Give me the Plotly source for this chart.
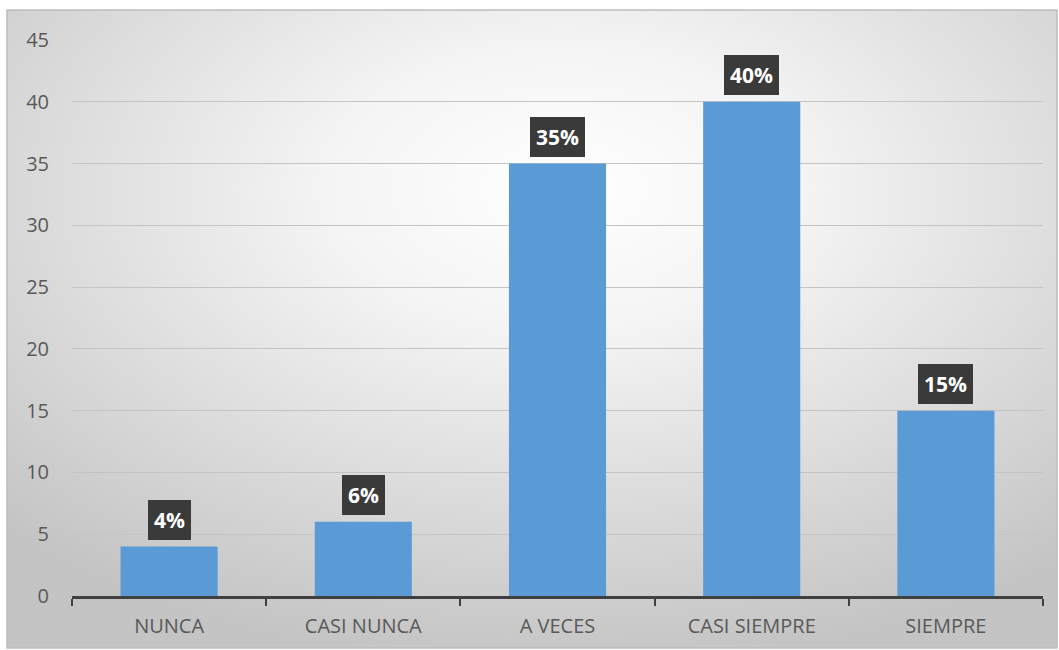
import base64
import plotly.graph_objects as go

# Survey response frequencies
categories = ["NUNCA", "CASI NUNCA", "A VECES", "CASI SIEMPRE", "SIEMPRE"]
values = [4, 6, 35, 40, 15]
value_labels = ["4%", "6%", "35%", "40%", "15%"]
y_ticks = [0, 5, 10, 15, 20, 25, 30, 35, 40, 45]

W, H = 1059, 650
L, R, T, B = 72, 16, 40, 54
plot_w = W - L - R
plot_h = H - T - B

def px_to_paper_x(px):
    return (px - L) / plot_w

def px_to_paper_y(py):
    return (H - B - py) / plot_h

# Radial gradient background for the chart area
svg = """<svg xmlns='http://www.w3.org/2000/svg' width='1050' height='638' viewBox='0 0 1050 638' preserveAspectRatio='none'>
<defs><radialGradient id='g' cx='0.53' cy='0.28' r='0.75' fx='0.53' fy='0.28'>
<stop offset='0' stop-color='#ffffff'/>
<stop offset='0.3' stop-color='#f4f4f4'/>
<stop offset='1' stop-color='#c4c4c4'/>
</radialGradient></defs>
<rect x='0' y='0' width='1050' height='638' fill='url(#g)'/>
</svg>"""
bg_src = "data:image/svg+xml;base64," + base64.b64encode(svg.encode()).decode()

x0, x1 = px_to_paper_x(7), px_to_paper_x(1057)
y_top, y_bot = px_to_paper_y(10), px_to_paper_y(648)

FONT = "Open Sans, Liberation Sans, sans-serif"

fig = go.Figure(
    go.Bar(
        x=categories,
        y=values,
        marker=dict(color="#5b9bd5", line=dict(width=0)),
        width=0.5,
        hoverinfo="x+y",
    )
)

for cat, val, lab in zip(categories, values, value_labels):
    fig.add_annotation(
        x=cat, y=val, text=f"<b>{lab}</b>",
        showarrow=False, yanchor="bottom", yshift=7,
        font=dict(family=FONT, size=21, color="white"),
        bgcolor="#3a3a3a", borderpad=6, borderwidth=0,
    )

fig.add_layout_image(
    source=bg_src, xref="paper", yref="paper",
    x=x0, y=y_top, sizex=x1 - x0, sizey=y_top - y_bot,
    xanchor="left", yanchor="top", sizing="stretch", layer="below",
)

fig.add_shape(
    type="rect", xref="paper", yref="paper",
    x0=x0, x1=x1, y0=y_bot, y1=y_top,
    line=dict(color="#bdbdbd", width=1.5), layer="below",
)

fig.update_layout(
    width=W, height=H,
    margin=dict(l=L, r=R, t=T, b=B),
    paper_bgcolor="white",
    plot_bgcolor="rgba(0,0,0,0)",
    showlegend=False,
    font=dict(family=FONT, size=20, color="#595959"),
    bargap=0.5,
)

fig.update_xaxes(
    showline=True, linecolor="#404040", linewidth=2.5,
    ticks="outside", ticklen=7, tickwidth=2, tickcolor="#404040",
    tickson="boundaries", ticklabelstandoff=10,
    showgrid=False, tickfont=dict(family=FONT, size=20, color="#595959"),
)

fig.update_yaxes(
    range=[0, 45], tickvals=y_ticks,
    showgrid=True, gridcolor="#c4c4c4", gridwidth=1,
    showline=False, zeroline=False, ticks="",
    ticklabelstandoff=22, tickfont=dict(family=FONT, size=20, color="#595959"),
)

fig.write_html("out.html")
